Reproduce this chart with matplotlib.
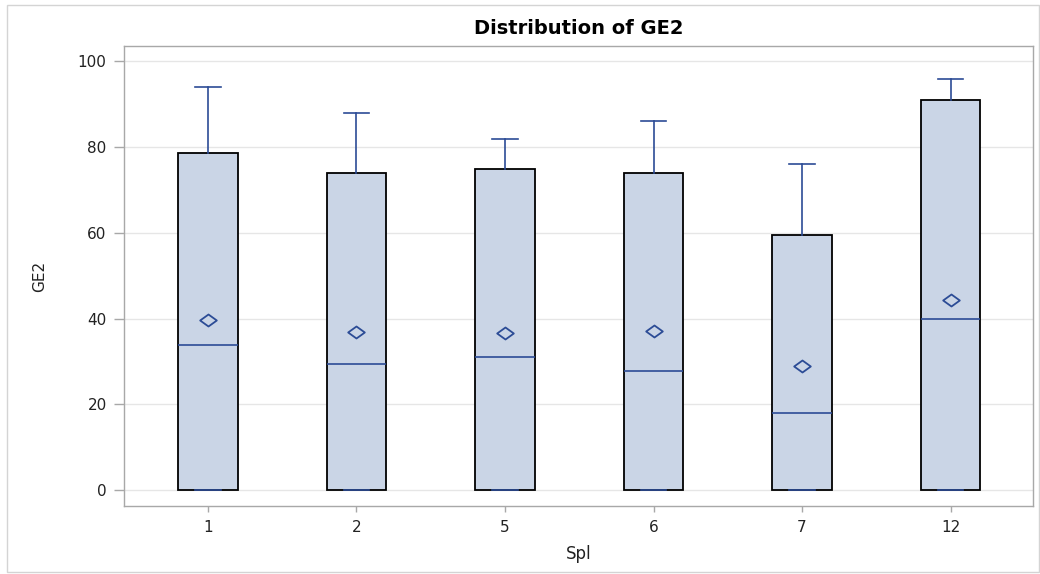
import matplotlib
matplotlib.use("Agg")
import matplotlib.pyplot as plt
from matplotlib.patches import Rectangle
from matplotlib.path import Path

plt.rcParams['font.family'] = ['DejaVu Sans']

# Box plot summary per Spl group
groups = ["1", "2", "5", "6", "7", "12"]
minimum = [0, 0, 0, 0, 0, 0]
q1 = [0, 0, 0, 0, 0, 0]
median = [33.8, 29.4, 31.0, 27.8, 18.0, 40.0]
q3 = [78.6, 73.9, 75.0, 73.9, 59.4, 91.1]
maximum = [94, 88, 82, 86, 76, 96]
mean = [39.7, 36.9, 36.7, 37.0, 28.9, 44.4]

line_blue = "#2C4C96"
fill_blue = "#CAD5E6"

stats = []
for i, g in enumerate(groups):
    stats.append(dict(label=g, whislo=minimum[i], q1=q1[i], med=median[i],
                      q3=q3[i], whishi=maximum[i], mean=mean[i], fliers=[]))

# a diamond that is a little wider than tall
wide_diamond = Path([(-1, 0), (0, 0.72), (1, 0), (0, -0.72), (-1, 0)],
                    [Path.MOVETO, Path.LINETO, Path.LINETO, Path.LINETO,
                     Path.CLOSEPOLY])

fig = plt.figure(figsize=(10.4, 5.74), dpi=100)
ax = fig.add_axes([124 / 1040, 1 - 506 / 574, (1033 - 124) / 1040, (506 - 46) / 574])

# light frame around the whole graph
fig.patches.append(Rectangle((7 / 1040, 2 / 574), 1032 / 1040, 567 / 574,
                             transform=fig.transFigure, fill=False,
                             edgecolor="#D4D4D4", linewidth=1.0))

ax.set_axisbelow(True)
ax.yaxis.grid(True, color="#E6E6E6", linewidth=1.0)

ax.bxp(stats, positions=range(len(groups)), widths=0.4, capwidths=0.17,
       showmeans=True, patch_artist=True, showfliers=False,
       boxprops=dict(facecolor=fill_blue, edgecolor="black", linewidth=1.3),
       medianprops=dict(color=line_blue, linewidth=1.2),
       whiskerprops=dict(color=line_blue, linewidth=1.2),
       capprops=dict(color=line_blue, linewidth=1.2),
       meanprops=dict(marker=wide_diamond, markerfacecolor="none",
                      markeredgecolor=line_blue, markersize=12,
                      markeredgewidth=1.3))

ax.set_xlim(-0.565, 5.555)
ax.set_ylim(-3.73, 103.6)
ax.set_yticks([0, 20, 40, 60, 80, 100])
ax.set_xticks(range(len(groups)))
ax.set_xticklabels(groups)

for s in ax.spines.values():
    s.set_color("#A8A8A8")
    s.set_linewidth(1.0)
ax.tick_params(axis="both", colors="#A8A8A8", labelcolor="#222222",
               labelsize=11, width=1.0, direction="out")
ax.tick_params(axis="x", length=4, pad=6)
ax.tick_params(axis="y", length=7, pad=5.5)

fig.text(578.5 / 1040, 1 - 28 / 574, "Distribution of GE2", fontsize=14,
         fontweight="bold", color="black", ha="center", va="center")
ax.set_xlabel("Spl", fontsize=12, color="#222222", labelpad=7)
ax.set_ylabel("GE2", fontsize=11, color="#222222", labelpad=22)

fig.savefig("out.png", dpi=100, facecolor="white")
